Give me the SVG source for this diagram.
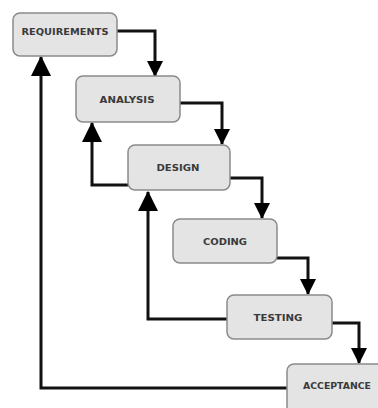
<svg xmlns="http://www.w3.org/2000/svg" width="378" height="408" viewBox="0 0 378 408">
<style>
.box{fill:#e4e4e4;stroke:#8a8a8a;stroke-width:1.5}
.lbl{font-family:"DejaVu Sans",sans-serif;font-weight:bold;font-size:9px;fill:#3a3a3a;text-anchor:middle;dominant-baseline:central}
.con{fill:none;stroke:#111;stroke-width:3;stroke-linejoin:miter}
</style>
<defs>
<marker id="ah" markerWidth="16" markerHeight="16" viewBox="0 0 16 16" refX="15" refY="8" orient="auto" markerUnits="userSpaceOnUse">
<path d="M0,0 L16,8 L0,16 Z" fill="#000"/>
</marker>
<marker id="ahb" markerWidth="20" markerHeight="20" viewBox="0 0 18 18" refX="17" refY="9" orient="auto" markerUnits="userSpaceOnUse">
<path d="M0,0 L18,9 L0,18 Z" fill="#000"/>
</marker>
</defs>
<rect width="378" height="408" fill="#fff"/>
<g id="connectors">
<path class="con" d="M117,31 H155 V76" marker-end="url(#ah)"/>
<path class="con" d="M180,103 H222 V144" marker-end="url(#ah)"/>
<path class="con" d="M230,178 H262 V218" marker-end="url(#ah)"/>
<path class="con" d="M277,258 H308 V294" marker-end="url(#ah)"/>
<path class="con" d="M332,323 H359 V363" marker-end="url(#ah)"/>
<path class="con" d="M128,185 H92 V123" marker-end="url(#ahb)"/>
<path class="con" d="M227,319 H148 V192" marker-end="url(#ahb)"/>
<path class="con" d="M287,388 H41 V57" marker-end="url(#ahb)"/>
</g>
<g id="requirements"><rect class="box" x="13" y="13" width="104" height="43" rx="7"/><text class="lbl" x="65" y="32" textLength="87" lengthAdjust="spacingAndGlyphs">REQUIREMENTS</text></g>
<g id="analysis"><rect class="box" x="76" y="76" width="104" height="46" rx="7"/><text class="lbl" x="127" y="100" textLength="55" lengthAdjust="spacingAndGlyphs">ANALYSIS</text></g>
<g id="design"><rect class="box" x="128" y="145" width="102" height="45" rx="7"/><text class="lbl" x="178" y="168" textLength="43" lengthAdjust="spacingAndGlyphs">DESIGN</text></g>
<g id="coding"><rect class="box" x="173" y="219" width="104" height="44" rx="7"/><text class="lbl" x="225" y="242" textLength="44" lengthAdjust="spacingAndGlyphs">CODING</text></g>
<g id="testing"><rect class="box" x="227" y="295" width="105" height="44" rx="7"/><text class="lbl" x="278" y="318" textLength="49" lengthAdjust="spacingAndGlyphs">TESTING</text></g>
<g id="acceptance"><rect class="box" x="287" y="364" width="100" height="50" rx="7"/><text class="lbl" x="337" y="386" textLength="68" lengthAdjust="spacingAndGlyphs">ACCEPTANCE</text></g>
</svg>
